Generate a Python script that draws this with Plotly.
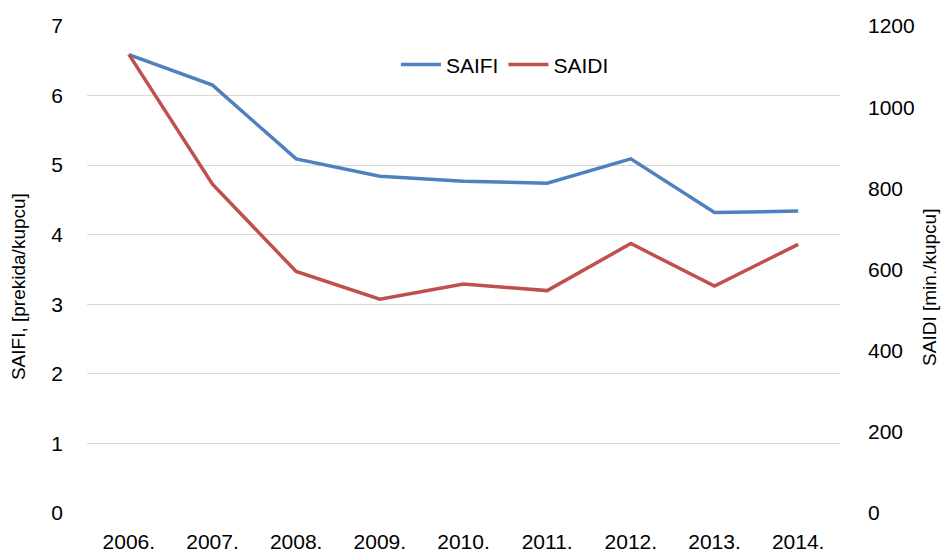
import plotly.graph_objects as go

years = ["2006.", "2007.", "2008.", "2009.", "2010.", "2011.", "2012.", "2013.", "2014."]
saifi = [6.59, 6.15, 5.09, 4.84, 4.77, 4.74, 5.09, 4.32, 4.34]
saidi = [1130, 810, 595, 527, 564, 548, 664, 559, 662]

left_ticks = [0, 1, 2, 3, 4, 5, 6, 7]
right_ticks = [0, 200, 400, 600, 800, 1000, 1200]

font_family = "Liberation Sans, Arial, sans-serif"

fig = go.Figure()
fig.add_trace(go.Scatter(x=years, y=saifi, name="SAIFI", mode="lines",
                         line=dict(color="#4F81BD", width=3.5)))
fig.add_trace(go.Scatter(x=years, y=saidi, name="SAIDI", mode="lines",
                         line=dict(color="#C0504D", width=3.5), yaxis="y2"))

fig.update_layout(
    width=943, height=546,
    margin=dict(l=79, r=111, t=18, b=41),
    paper_bgcolor="white", plot_bgcolor="white",
    font=dict(family=font_family, size=21, color="#000000"),
    showlegend=True,
    legend=dict(orientation="h", x=0.555, y=0.92, xanchor="center", yanchor="middle",
                font=dict(size=21), bgcolor="rgba(0,0,0,0)", itemwidth=40),
    xaxis=dict(type="category", range=[-0.5, 8.5], showgrid=False, showline=False,
               zeroline=False, ticks="", tickfont=dict(size=21), automargin=False,
               ticklabelstandoff=14),
    yaxis=dict(range=[0, 7], tickvals=left_ticks, showgrid=True, gridcolor="#D9D9D9",
               gridwidth=1.3, zeroline=False, showline=False, ticks="",
               ticklabelstandoff=23, automargin=False),
    yaxis2=dict(range=[0, 1200], tickvals=right_ticks, overlaying="y", side="right",
                showgrid=False, zeroline=False, showline=False, ticks="",
                ticklabelstandoff=27, automargin=False),
    annotations=[
        dict(text="SAIFI, [prekida/kupcu]", textangle=-90, xref="paper", yref="paper",
             x=-0.0916, y=0.464, xanchor="center", yanchor="middle", showarrow=False,
             font=dict(size=19)),
        dict(text="SAIDI [min./kupcu]", textangle=-90, xref="paper", yref="paper",
             x=1.118, y=0.464, xanchor="center", yanchor="middle", showarrow=False,
             font=dict(size=19)),
    ],
)

fig.write_html("out.html")
